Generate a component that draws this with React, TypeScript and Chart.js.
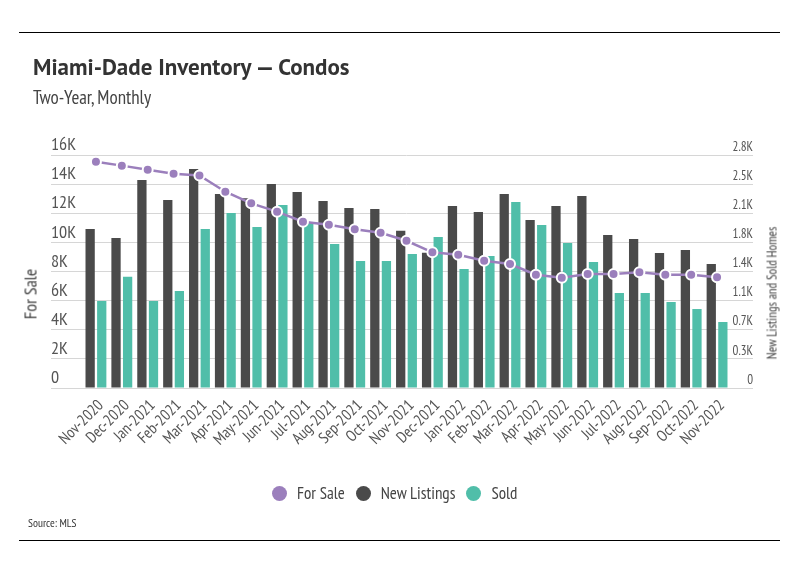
import React, { useEffect, useRef } from 'react';
import { Chart, registerables } from 'chart.js';

Chart.register(...registerables);

const categories = [
  'Nov-2020', 'Dec-2020', 'Jan-2021', 'Feb-2021', 'Mar-2021', 'Apr-2021', 'May-2021',
  'Jun-2021', 'Jul-2021', 'Aug-2021', 'Sep-2021', 'Oct-2021', 'Nov-2021', 'Dec-2021',
  'Jan-2022', 'Feb-2022', 'Mar-2022', 'Apr-2022', 'May-2022', 'Jun-2022', 'Jul-2022',
  'Aug-2022', 'Sep-2022', 'Oct-2022', 'Nov-2022',
];

const forSale = [
  15540, 15270, 14990, 14720, 14600, 13480, 12680, 12110, 11420, 11210, 10900, 10660,
  10110, 9320, 9150, 8740, 8510, 7780, 7570, 7830, 7830, 7950, 7780, 7780, 7600,
];

const newListings = [
  1911, 1803, 2500, 2259, 2632, 2331, 2280, 2451, 2355, 2247, 2163, 2151, 1890, 1626,
  2187, 2115, 2331, 2019, 2187, 2307, 1839, 1791, 1622, 1658, 1490,
];

const sold = [
  1045, 1337, 1045, 1166, 1911, 2103, 1935, 2199, 1995, 1730, 1526, 1526, 1610, 1815,
  1430, 1586, 2235, 1959, 1742, 1514, 1142, 1142, 1033, 949, 793,
];

const rightTickLabels = ['0', '0.3K', '0.7K', '1.1K', '1.4K', '1.8K', '2.1K', '2.5K', '2.8K'];

const FONT = "'PT Sans Narrow', 'DejaVu Sans Condensed', Roboto, sans-serif";
const TITLE_FONT = "'PT Sans', 'PT Sans Narrow', Roboto, sans-serif";
const PURPLE = '#9b7fbc';
const DARK = '#4a4a4a';
const TEAL = '#50bea9';
const GRID = '#d6d6d6';
const TEXT = '#555555';

export default function App() {
  const canvasRef = useRef<HTMLCanvasElement | null>(null);

  useEffect(() => {
    if (!canvasRef.current) return;
    Chart.defaults.font.family = FONT;
    const chart = new Chart(canvasRef.current, {
      type: 'bar',
      data: {
        labels: categories,
        datasets: [
          {
            type: 'line',
            label: 'For Sale',
            data: forSale,
            yAxisID: 'y',
            borderColor: PURPLE,
            backgroundColor: PURPLE,
            borderWidth: 2.5,
            pointRadius: 5,
            pointBackgroundColor: PURPLE,
            pointBorderColor: '#ffffff',
            pointBorderWidth: 2,
            order: 0,
          },
          {
            type: 'bar',
            label: 'New Listings',
            data: newListings,
            yAxisID: 'y1',
            backgroundColor: DARK,
            barPercentage: 0.8,
            categoryPercentage: 0.896,
            order: 1,
          },
          {
            type: 'bar',
            label: 'Sold',
            data: sold,
            yAxisID: 'y1',
            backgroundColor: TEAL,
            barPercentage: 0.8,
            categoryPercentage: 0.896,
            order: 2,
          },
        ],
      },
      options: {
        animation: false,
        responsive: false,
        layout: { padding: { left: 51, right: 46, top: 155, bottom: 127 } },
        plugins: { legend: { display: false }, tooltip: { enabled: false } },
        scales: {
          x: {
            grid: { display: false, drawTicks: false },
            border: { display: false },
            ticks: {
              minRotation: 45,
              maxRotation: 45,
              autoSkip: false,
              padding: 8,
              labelOffset: 5,
              color: TEXT,
              font: { size: 16 },
            },
            afterFit: (s: any) => { s.height = 60; },
          },
          y: {
            position: 'left',
            min: 0,
            max: 16000,
            border: { display: false },
            grid: { color: GRID, lineWidth: 1, drawTicks: true, tickLength: 32 },
            ticks: {
              stepSize: 2000,
              crossAlign: 'far',
              labelOffset: -10,
              padding: 0,
              color: TEXT,
              font: { size: 18 },
              callback: (v: any) => (v === 0 ? '0' : v / 1000 + 'K'),
            },
            afterFit: (s: any) => { s.width = 32; },
          },
          y1: {
            position: 'right',
            min: 0,
            max: 2800,
            border: { display: false },
            grid: { color: GRID, lineWidth: 1, drawOnChartArea: false, drawTicks: true, tickLength: 23 },
            ticks: {
              stepSize: 350,
              crossAlign: 'far',
              labelOffset: -8,
              padding: 0,
              color: TEXT,
              font: { size: 13 },
              callback: (_v: any, i: number) => rightTickLabels[i],
            },
            afterFit: (s: any) => { s.width = 23; },
          },
        },
      },
    });
    return () => chart.destroy();
  }, []);

  const legendItems = [
    { label: 'For Sale', color: PURPLE },
    { label: 'New Listings', color: DARK },
    { label: 'Sold', color: TEAL },
  ];

  return (
    <div style={{ position: 'absolute', left: 0, top: 0, width: 799, height: 575, background: '#fff', fontFamily: FONT, overflow: 'hidden' }}>
      <canvas ref={canvasRef} width={799} height={575} style={{ position: 'absolute', left: 0, top: 0, display: 'block' }} />
      <div style={{ position: 'absolute', left: 19, top: 32, width: 761, height: 1, background: '#000' }} />
      <div style={{ position: 'absolute', left: 33, top: 53, fontFamily: TITLE_FONT, fontSize: 23, fontWeight: 700, color: '#333', whiteSpace: 'nowrap', lineHeight: '28px' }}>
        Miami-Dade Inventory — Condos
      </div>
      <div style={{ position: 'absolute', left: 33, top: 87, fontSize: 19, color: '#444', whiteSpace: 'nowrap', lineHeight: '20px' }}>
        Two-Year, Monthly
      </div>
      <div style={{ position: 'absolute', left: 30, top: 294, transform: 'translate(-50%, -50%) rotate(-90deg)', fontSize: 18, color: '#444', whiteSpace: 'nowrap' }}>
        For Sale
      </div>
      <div style={{ position: 'absolute', left: 772, top: 293, transform: 'translate(-50%, -50%) rotate(-90deg)', fontSize: 13, color: '#444', whiteSpace: 'nowrap' }}>
        New Listings and Sold Homes
      </div>
      <div style={{ position: 'absolute', left: 272, top: 482, display: 'flex', alignItems: 'center', fontSize: 17, color: '#444', whiteSpace: 'nowrap' }}>
        {legendItems.map((it) => (
          <div key={it.label} style={{ display: 'flex', alignItems: 'center', marginRight: 11 }}>
            <span style={{ width: 15, height: 15, borderRadius: '50%', background: it.color, display: 'inline-block', marginRight: 10 }} />
            <span>{it.label}</span>
          </div>
        ))}
      </div>
      <div style={{ position: 'absolute', left: 28, top: 515, fontSize: 11.5, color: '#333', whiteSpace: 'nowrap' }}>
        Source: MLS
      </div>
      <div style={{ position: 'absolute', left: 19, top: 540, width: 761, height: 1, background: '#000' }} />
    </div>
  );
}
